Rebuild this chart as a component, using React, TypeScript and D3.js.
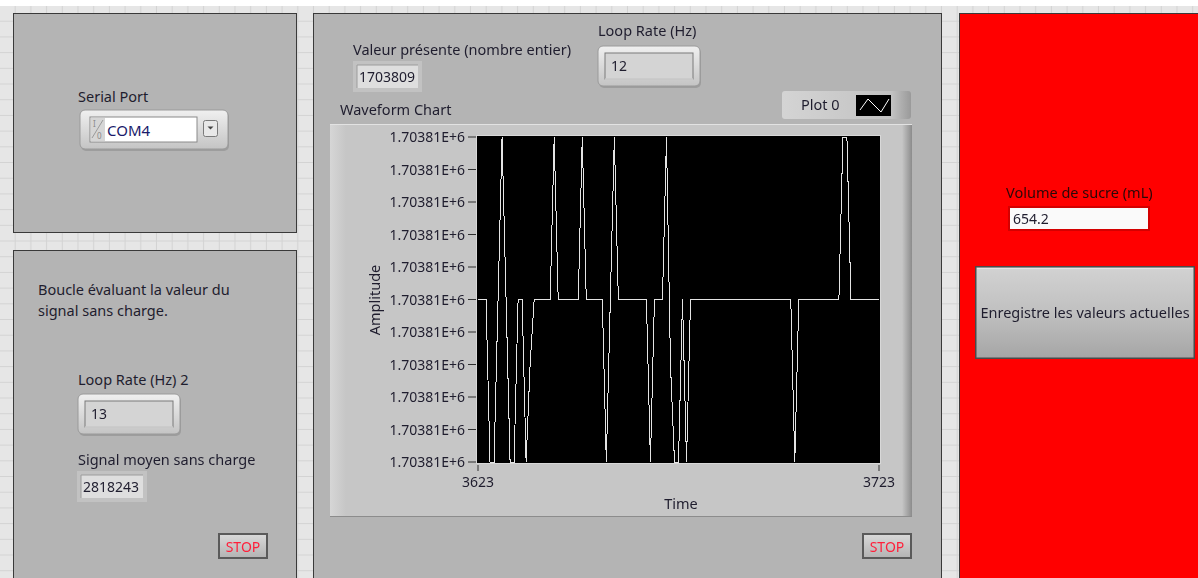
import React from 'react';
import * as d3 from 'd3';

// Waveform chart data (one sample per Time step, starting at 3623)
const timeStart = 3623;
const xTicks = [3623, 3723];
const yTicks = [
  1703806.5, 1703807, 1703807.5, 1703808, 1703808.5, 1703809,
  1703809.5, 1703810, 1703810.5, 1703811, 1703811.5,
];
const samples = [
  1703809, 1703809, 1703809, 1703806, 1703806, 1703809, 1703812, 1703809, 1703806, 1703806,
  1703809, 1703809, 1703806, 1703808, 1703809, 1703809, 1703809, 1703809, 1703809, 1703812,
  1703809, 1703809, 1703809, 1703809, 1703809, 1703809, 1703812, 1703809, 1703809, 1703809,
  1703809, 1703809, 1703806, 1703809, 1703812, 1703809, 1703809, 1703809, 1703809, 1703809,
  1703809, 1703809, 1703809, 1703806, 1703809, 1703809, 1703809, 1703812, 1703808, 1703806,
  1703806, 1703809, 1703806, 1703809, 1703809, 1703809, 1703809, 1703809, 1703809, 1703809,
  1703809, 1703809, 1703809, 1703809, 1703809, 1703809, 1703809, 1703809, 1703809, 1703809,
  1703809, 1703809, 1703809, 1703809, 1703809, 1703809, 1703809, 1703809, 1703809, 1703806,
  1703809, 1703809, 1703809, 1703809, 1703809, 1703809, 1703809, 1703809, 1703809, 1703809,
  1703809, 1703812, 1703812, 1703809, 1703809, 1703809, 1703809, 1703809, 1703809, 1703809,
  1703809,
];

// front panel readouts
const serialPort = 'COM4';
const loopRate = '12';
const loopRate2 = '13';
const presentValue = '1703809';
const meanSignal = '2818243';
const sugarVolume = '654.2';

const FONT = '"Noto Sans", "Open Sans", sans-serif';
const TXT = '#1f1d2e';
const LBL = 14.5; // label size
const NUM = 14; // numbers, ticks

const fmtY = (v: number) => d3.format('.5e')(v).replace('e', 'E');

// raised LabVIEW-style control with an inner field
const Control: React.FC<{ x: number; y: number; w: number; h: number; value: string }> = ({ x, y, w, h, value }) => (
  <g>
    <rect x={x + 1} y={y + 2} width={w} height={h} rx={5} fill="#8e8e8e" opacity={0.6} />
    <rect x={x} y={y} width={w} height={h} rx={5} fill="url(#ctrlGrad)" stroke="#9a9a9a" />
    <rect x={x + 7} y={y + 7} width={w - 14} height={h - 14} fill="#d4d4d4" stroke="#7a7a7a" />
    <line x1={x + 7} y1={y + h - 7} x2={x + w - 7} y2={y + h - 7} stroke="#eeeeee" />
    <text x={x + 13} y={y + h / 2 + 5} fontSize={NUM} fill={TXT}>{value}</text>
  </g>
);

// recessed indicator box
const Indicator: React.FC<{ x: number; y: number; w: number; h: number; value: string }> = ({ x, y, w, h, value }) => (
  <g>
    <rect x={x} y={y} width={w} height={h} fill="#c2c2c2" />
    <rect x={x + 4} y={y + 4} width={w - 8} height={h - 8} fill="#dedede" />
    <path d={`M${x + 4},${y + h - 4}V${y + 4}H${x + w - 4}`} fill="none" stroke="#9c9c9c" />
    <text x={x + 6} y={y + h / 2 + 5} fontSize={NUM} fill={TXT}>{value}</text>
  </g>
);

const StopButton: React.FC<{ x: number; y: number }> = ({ x, y }) => (
  <g>
    <rect x={x} y={y} width={50} height={26} fill="#5a5a5a" />
    <rect x={x + 2} y={y + 2} width={46} height={22} fill="url(#stopGrad)" />
    <text x={x + 25} y={y + 18.5} fontSize={14} textAnchor="middle" fill="#ff1f3a">STOP</text>
  </g>
);

const App: React.FC = () => {
  const W = 1198;
  const H = 578;

  const plot = { left: 477, right: 880, top: 136, bottom: 463 };
  const x = d3.scaleLinear().domain([xTicks[0], xTicks[xTicks.length - 1]]).range([478, 879]);
  const y = d3.scaleLinear().domain([yTicks[0], yTicks[yTicks.length - 1]]).range([462, 137]).clamp(true);
  const line = d3.line<number>().x((_, i) => x(timeStart + i)).y(d => y(d));

  return (
    <svg
      width={W}
      height={H}
      viewBox={`0 0 ${W} ${H}`}
      style={{ position: 'fixed', left: 0, top: 0, fontFamily: FONT }}
    >
      <defs>
        <pattern id="grid" x={0} y={6} width={15.7} height={15.7} patternUnits="userSpaceOnUse">
          <rect width={15.7} height={15.7} fill="#e6e6e6" />
          <path d="M15.2,0V15.7M0,15.2H15.7" stroke="#d3d3d3" strokeWidth={1} />
        </pattern>
        <linearGradient id="ctrlGrad" x1="0" y1="0" x2="0" y2="1">
          <stop offset="0" stopColor="#f0f0f0" />
          <stop offset="1" stopColor="#c4c4c4" />
        </linearGradient>
        <linearGradient id="stopGrad" x1="0" y1="0" x2="0" y2="1">
          <stop offset="0" stopColor="#d8d8d8" />
          <stop offset="1" stopColor="#b4b4b4" />
        </linearGradient>
        <linearGradient id="bigBtn" x1="0" y1="0" x2="0" y2="1">
          <stop offset="0" stopColor="#d2d2d2" />
          <stop offset="0.5" stopColor="#c0c0c0" />
          <stop offset="1" stopColor="#a6a6a6" />
        </linearGradient>
        <linearGradient id="frameL" x1="0" y1="0" x2="1" y2="0">
          <stop offset="0" stopColor="#d6d6d6" />
          <stop offset="1" stopColor="#c6c6c6" />
        </linearGradient>
        <linearGradient id="frameR" x1="0" y1="0" x2="1" y2="0">
          <stop offset="0" stopColor="#c6c6c6" />
          <stop offset="1" stopColor="#8c8c8c" />
        </linearGradient>
        <linearGradient id="legendGrad" x1="0" y1="0" x2="1" y2="0">
          <stop offset="0" stopColor="#d4d4d4" />
          <stop offset="0.85" stopColor="#c2c2c2" />
          <stop offset="1" stopColor="#9a9a9a" />
        </linearGradient>
        <clipPath id="plotClip">
          <rect x={plot.left} y={plot.top} width={plot.right - plot.left} height={plot.bottom - plot.top} />
        </clipPath>
      </defs>

      {/* page background */}
      <rect x={0} y={0} width={W} height={H} fill="url(#grid)" />
      <rect x={0} y={0} width={W} height={6} fill="#ffffff" />

      {/* ---------- top-left panel: serial port ---------- */}
      <rect x={13.5} y={13.5} width={283} height={219} fill="#b4b4b4" stroke="#3a3a3a" />
      <text x={78} y={102} fontSize={LBL} fill={TXT}>Serial Port</text>
      <rect x={81} y={112} width={148} height={39} rx={5} fill="#8e8e8e" opacity={0.6} />
      <rect x={80} y={110} width={148} height={39} rx={5} fill="url(#ctrlGrad)" stroke="#9a9a9a" />
      <rect x={90} y={117} width={107} height={25} fill="#ffffff" stroke="#8a8a8a" />
      <rect x={91} y={118} width={14} height={23} fill="#d6d6d6" />
      <text x={93} y={127} fontSize={8} fill="#8a8a8a">I</text>
      <line x1={92} y1={138} x2={103} y2={120} stroke="#8a8a8a" strokeWidth={0.8} />
      <text x={97} y={139} fontSize={8} fill="#8a8a8a">0</text>
      <text x={107} y={135.5} fontSize={15} fill="#1a1a6a">{serialPort}</text>
      <rect x={203.5} y={120.5} width={14} height={16} rx={2} fill="#e8e8e8" stroke="#7a7a7a" />
      <path d="M207.5,126.5h6l-3,3z" fill="#444" />

      {/* ---------- bottom-left panel ---------- */}
      <rect x={13.5} y={250.5} width={283} height={340} fill="#b4b4b4" stroke="#3a3a3a" />
      <text x={38} y={295} fontSize={LBL} fill={TXT}>Boucle évaluant la valeur du</text>
      <text x={38} y={316} fontSize={LBL} fill={TXT}>signal sans charge.</text>
      <text x={78} y={385} fontSize={LBL} fill={TXT}>Loop Rate (Hz) 2</text>
      <Control x={78} y={394} w={102} h={40} value={loopRate2} />
      <text x={78} y={465} fontSize={LBL} fill={TXT}>Signal moyen sans charge</text>
      <Indicator x={77} y={471} w={70} h={31} value={meanSignal} />
      <StopButton x={218} y={533} />

      {/* ---------- centre panel ---------- */}
      <rect x={313.5} y={13.5} width={628} height={580} fill="#b4b4b4" stroke="#3a3a3a" />
      <text x={353} y={55} fontSize={LBL} fill={TXT}>Valeur présente (nombre entier)</text>
      <Indicator x={353} y={61} w={69} h={31} value={presentValue} />
      <text x={598} y={36} fontSize={LBL} fill={TXT}>Loop Rate (Hz)</text>
      <Control x={598} y={46} w={102} h={40} value={loopRate} />
      <text x={340} y={115} fontSize={LBL} fill={TXT}>Waveform Chart</text>

      {/* legend */}
      <rect x={782} y={91} width={129} height={28} rx={3} fill="url(#legendGrad)" />
      <text x={801} y={110} fontSize={LBL} fill={TXT}>Plot 0</text>
      <rect x={856} y={95} width={35} height={21} fill="#000000" />
      <polyline points="860,110 868,99 881,112 889,99" fill="none" stroke="#ffffff" strokeWidth={1} />

      {/* chart frame */}
      <rect x={330} y={124} width={582} height={393} fill="#c6c6c6" />
      <rect x={330} y={124} width={16} height={393} fill="url(#frameL)" />
      <rect x={902} y={124} width={10} height={393} fill="url(#frameR)" />
      <line x1={330} y1={516.5} x2={912} y2={516.5} stroke="#8c8c8c" />
      <line x1={330} y1={124.5} x2={912} y2={124.5} stroke="#e2e2e2" />

      {/* plot area */}
      <rect x={plot.left - 1} y={plot.top - 1} width={plot.right - plot.left + 2} height={plot.bottom - plot.top + 2} fill="#d8d8d8" />
      <rect x={plot.left} y={plot.top} width={plot.right - plot.left} height={plot.bottom - plot.top} fill="#000000" />
      <path
        d={line(samples) || ''}
        fill="none"
        stroke="#e4e4e4"
        strokeWidth={1}
        shapeRendering="crispEdges"
        clipPath="url(#plotClip)"
      />

      {/* y axis */}
      {yTicks.map((t, i) => (
        <g key={i} transform={`translate(0,${y(t)})`}>
          <line x1={468} x2={476} y1={0} y2={0} stroke="#303030" />
          <text x={465} y={5} fontSize={NUM} textAnchor="end" fill={TXT}>{fmtY(t)}</text>
        </g>
      ))}
      <text transform="translate(380,300) rotate(-90)" fontSize={LBL} textAnchor="middle" fill={TXT}>Amplitude</text>

      {/* x axis */}
      {xTicks.map((t, i) => (
        <g key={i} transform={`translate(${x(t)},0)`}>
          <line x1={0} x2={0} y1={465} y2={471} stroke="#303030" />
          <text x={0} y={487} fontSize={NUM} textAnchor="middle" fill={TXT}>{t}</text>
        </g>
      ))}
      <text x={681} y={509} fontSize={LBL} textAnchor="middle" fill={TXT}>Time</text>

      <StopButton x={862} y={533} />

      {/* ---------- right red panel ---------- */}
      <rect x={959.5} y={13.5} width={260} height={580} fill="#ff0000" stroke="#3a3a3a" />
      <text x={1006} y={198} fontSize={LBL} fill="#2a0808">Volume de sucre (mL)</text>
      <rect x={1008} y={206} width={142} height={25} fill="#d40000" />
      <rect x={1010} y={208} width={138} height={21} fill="#fafafa" />
      <text x={1013} y={224} fontSize={NUM} fill={TXT}>{sugarVolume}</text>
      <rect x={975} y={266} width={220} height={93} fill="#4a4a4a" />
      <rect x={976.5} y={267.5} width={217} height={90} fill="url(#bigBtn)" />
      <line x1={977} y1={268.5} x2={1193} y2={268.5} stroke="#e4e4e4" />
      <text x={1085} y={318} fontSize={LBL} textAnchor="middle" fill={TXT}>Enregistre les valeurs actuelles</text>
    </svg>
  );
};

export default App;
